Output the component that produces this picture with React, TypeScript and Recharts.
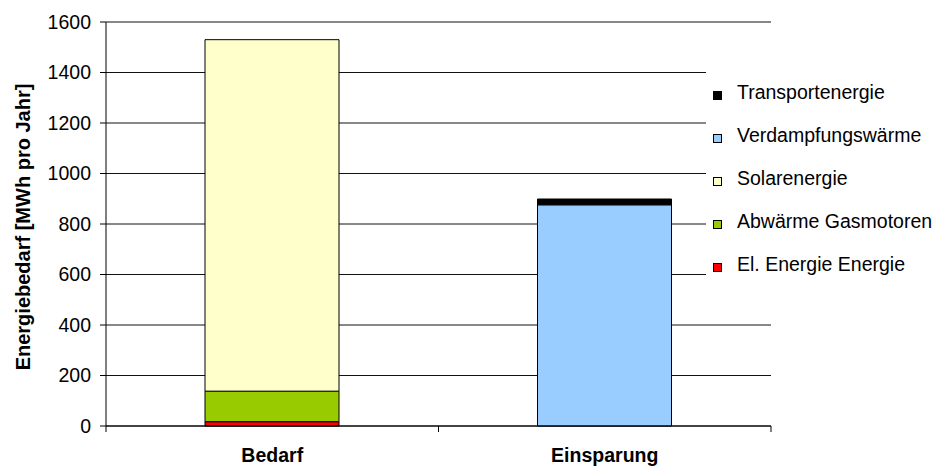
import React from "react"
import { BarChart, Bar, XAxis, YAxis, CartesianGrid, Legend, ReferenceLine } from "recharts"

const categories = ["Bedarf", "Einsparung"]
const elEnergie = [17, 0]
const abwaerme = [121, 0]
const solar = [1392, 0]
const verdampfung = [0, 876]
const transport = [0, 23]
const yTicks = [0, 200, 400, 600, 800, 1000, 1200, 1400, 1600]

const FONT = "'Liberation Sans', Arial, sans-serif"

// stacking order bottom -> top
const series = [
  { key: "el", name: "El. Energie Energie", color: "#ff0000", values: elEnergie },
  { key: "abw", name: "Abwärme Gasmotoren", color: "#99cc00", values: abwaerme },
  { key: "solar", name: "Solarenergie", color: "#ffffcc", values: solar },
  { key: "verd", name: "Verdampfungswärme", color: "#99ccff", values: verdampfung },
  { key: "trans", name: "Transportenergie", color: "#000000", values: transport },
]

const data = categories.map((name, i) => {
  const row: any = { name, idx: i + 0.5 }
  series.forEach(s => { row[s.key] = s.values[i] })
  return row
})

// ticks on the numeric axis: whole numbers = category borders, halves = category labels
const xTicks = [0, 0.5, 1, 1.5, 2]

// legend lists the series top -> bottom, like the stack
function LegendBox() {
  return (
    <div style={{ paddingTop: 2, fontFamily: FONT, fontSize: 19.5, color: "#000" }}>
      {[...series].reverse().map(s => (
        <div key={s.key} style={{ height: 43, display: "flex", alignItems: "center" }}>
          <div
            style={{
              width: 9, height: 9, marginLeft: 7, boxSizing: "border-box",
              background: s.color, border: "1px solid #000",
            }}
          />
          <span style={{ marginLeft: 15, position: "relative", top: -3, whiteSpace: "nowrap" }}>{s.name}</span>
        </div>
      ))}
    </div>
  )
}

function XTick({ x, y, payload }: any) {
  const v = payload.value
  if (Number.isInteger(v)) {
    return <line x1={x} x2={x} y1={y} y2={y + 6} stroke="#000" />
  }
  return (
    <text x={x} y={y + 36} textAnchor="middle" fontFamily={FONT} fontSize={19.5} fontWeight="bold" fill="#000">
      {categories[Math.floor(v)]}
    </text>
  )
}

function YLabel() {
  return (
    <text
      x={23} y={227} transform="rotate(-90 23 227)" textAnchor="middle" dominantBaseline="central"
      fontFamily={FONT} fontSize={20} fontWeight="bold" fill="#000"
    >
      Energiebedarf [MWh pro Jahr]
    </text>
  )
}

export default function App() {
  return (
    <div style={{ position: "absolute", left: 0, top: 0, width: 949, height: 466, background: "#fff" }}>
      <BarChart width={949} height={466} data={data} margin={{ top: 22, right: 178, bottom: 0, left: 0 }}>
        <CartesianGrid vertical={false} stroke="#111" />
        <XAxis dataKey="name" hide height={0} />
        <XAxis
          xAxisId="b" type="number" dataKey="idx" domain={[0, 2]} ticks={xTicks} interval={0}
          height={40} tick={<XTick />} tickLine={false} tickSize={0} tickMargin={0}
          stroke="#000" allowDataOverflow
        />
        <YAxis
          domain={[0, 1600]} ticks={yTicks} width={106} stroke="#000" tickSize={6} tickMargin={9}
          tick={{ fill: "#000", fontFamily: FONT, fontSize: 19.5 }} interval={0}
          label={<YLabel />}
        />
        <YAxis yAxisId="r" orientation="right" domain={[0, 1600]} width={0} tick={false} tickLine={false} stroke="#888" />
        <ReferenceLine y={1600} stroke="#888" />
        {series.map(s => (
          <Bar
            key={s.key} dataKey={s.key} name={s.name} stackId="a" fill={s.color}
            stroke="#000" strokeWidth={1} barSize={134} isAnimationActive={false}
          />
        ))}
        <Legend
          layout="vertical" align="center" verticalAlign="middle" content={<LegendBox />}
          wrapperStyle={{ left: 706, top: 72, width: 243, height: 213, background: "#fff" }}
        />
      </BarChart>
    </div>
  )
}
